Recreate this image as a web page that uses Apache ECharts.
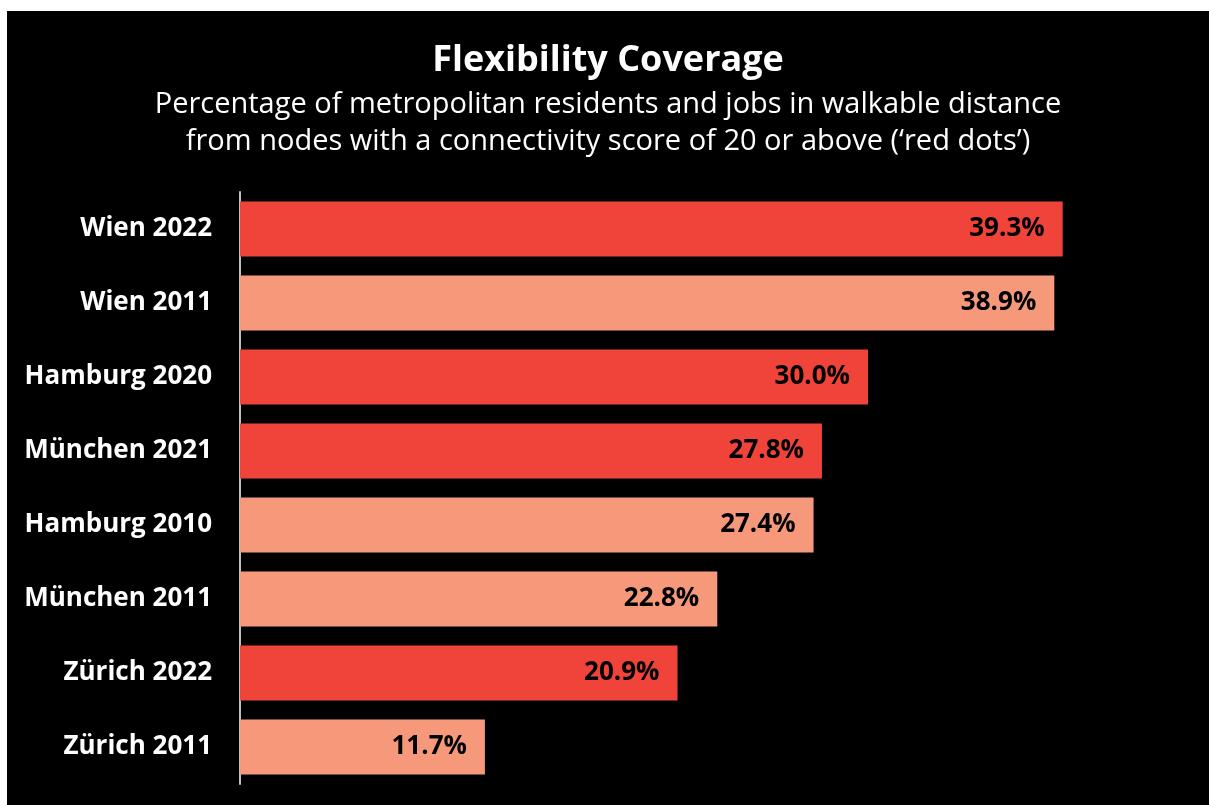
<!DOCTYPE html>
<html>
<head>
<meta charset="utf-8">
<script src="https://cdn.jsdelivr.net/npm/echarts@6/dist/echarts.min.js"></script>
<style>
  html, body { margin: 0; padding: 0; background: #ffffff; width: 1209px; height: 805px; overflow: hidden; }
  #chart { position: absolute; left: 7px; top: 11px; width: 1202px; height: 794px; }
</style>
</head>
<body>
<div id="chart"></div>
<script>
// City / survey-year labels, top to bottom
const categories = [
  'Wien 2022', 'Wien 2011', 'Hamburg 2020', 'München 2021',
  'Hamburg 2010', 'München 2011', 'Zürich 2022', 'Zürich 2011'
];
// Share of residents and jobs near 'red dot' nodes (%)
const coverage = [39.3, 38.9, 30.0, 27.8, 27.4, 22.8, 20.9, 11.7];

const titleText = 'Flexibility Coverage';
const subtitleText = 'Percentage of metropolitan residents and jobs in walkable distance\nfrom nodes with a connectivity score of 20 or above (\u2018red dots\u2019)';

const RECENT = '#f0433a';
const EARLY = '#f6997b';
const FONT = '"Open Sans", "Noto Sans", sans-serif';

const chart = echarts.init(document.getElementById('chart'));
chart.setOption({
  backgroundColor: '#000000',
  animation: false,
  title: {
    text: titleText,
    subtext: subtitleText,
    left: 'center',
    top: 27,
    itemGap: 7,
    textStyle: { color: '#ffffff', fontFamily: FONT, fontSize: 36, fontWeight: 'bold' },
    subtextStyle: { color: '#ffffff', fontFamily: FONT, fontSize: 29, lineHeight: 37 }
  },
  grid: { left: 233, top: 181, height: 592, width: 942 },
  xAxis: {
    type: 'value',
    min: 0,
    max: 45,
    show: false
  },
  yAxis: {
    type: 'category',
    data: categories,
    inverse: true,
    axisLine: { show: true, lineStyle: { color: '#bfbfbf', width: 2 } },
    axisTick: { show: false },
    axisLabel: {
      color: '#ffffff',
      fontFamily: FONT,
      fontSize: 26,
      fontWeight: 'bold',
      margin: 28,
      padding: [4, 0, 0, 0]
    }
  },
  series: [{
    type: 'bar',
    data: coverage,
    barWidth: '74%',
    itemStyle: {
      color: (p) => (parseInt(categories[p.dataIndex].slice(-4), 10) >= 2020 ? RECENT : EARLY)
    },
    label: {
      show: true,
      position: 'insideRight',
      distance: 18,
      color: '#000000',
      fontFamily: FONT,
      fontSize: 26,
      fontWeight: 'bold',
      padding: [3, 0, 0, 0],
      formatter: (p) => p.value.toFixed(1) + '%'
    }
  }]
});
</script>
</body>
</html>
